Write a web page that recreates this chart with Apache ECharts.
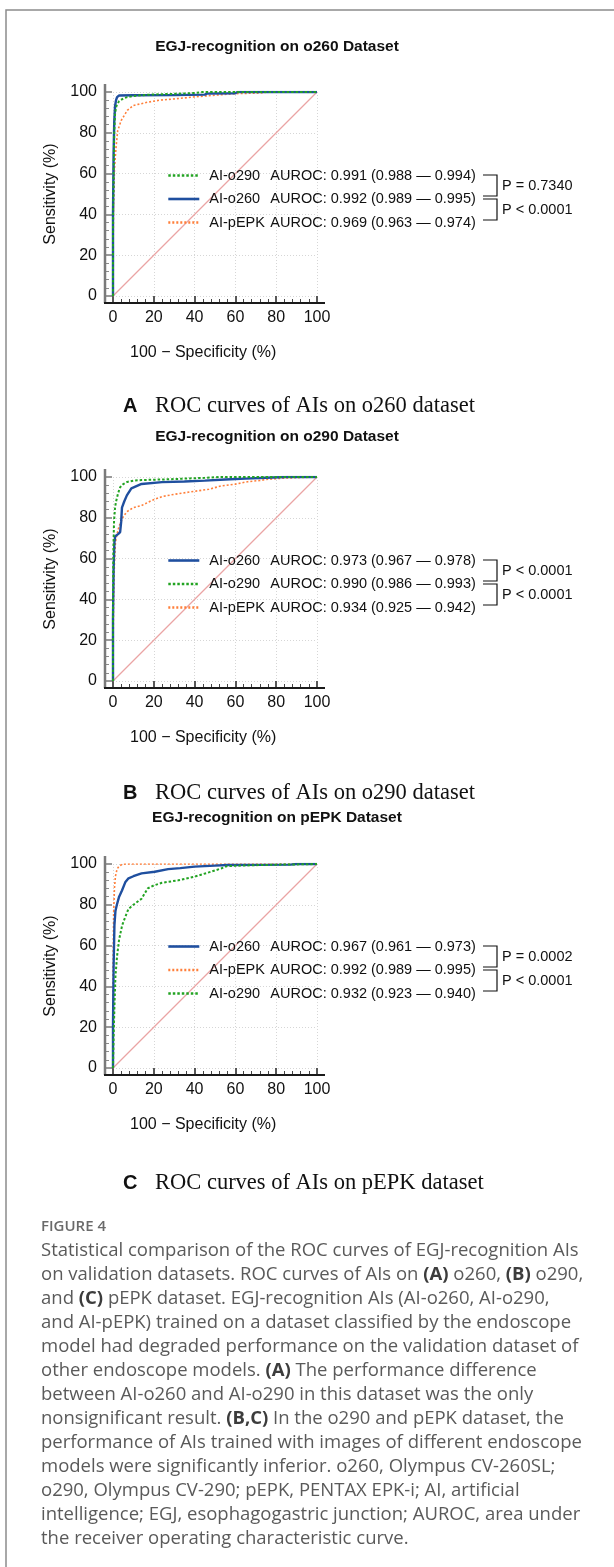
<!DOCTYPE html>
<html><head><meta charset="utf-8">
<script src="https://cdn.jsdelivr.net/npm/echarts@6/dist/echarts.min.js"></script>
<style>html,body{margin:0;padding:0;background:#fff}#c{width:614px;height:1567px}</style>
</head><body><div id="c"></div>
<script>
// ---------------- DATA ----------------
// Panel A: o260 dataset
const A_o260_fpr = [0,0,0.3,0.6,1,1.5,2,3,10,30,45,46,60,61,100];
const A_o260_tpr = [0,40,70,85,93,96,97.5,98.3,98.4,98.5,98.7,99.2,99.4,100,100];
const A_o290_fpr = [0,0,0.3,0.6,1,1.5,2,3,5,7,12,20,30,40,44,100];
const A_o290_tpr = [0,35,60,80,89,92.5,94,95.5,96.8,97.5,98.3,98.8,99.1,99.5,100,100];
const A_pEPK_fpr = [0,0,0.3,0.7,1.5,2.3,4,7,10,17,23,31,39,47,60,72,76,100];
const A_pEPK_tpr = [0,20,45,62,73,81,86,91,93.4,95,96,96.7,97.5,98.2,99.2,99.5,100,100];
// Panel B: o290 dataset
const B_o260_fpr = [0,0,0.3,0.7,1.1,2.5,3.5,4,4.4,5.5,6.8,9,14,24,35,45,55,65,75,85,100];
const B_o260_tpr = [0,30,55,68,71,72,73,78,85,88,91,94.4,96.6,97.5,97.8,98.2,98.8,99.2,99.6,100,100];
const B_o290_fpr = [0,0,0.2,0.5,1,1.5,2.5,3.5,5,7,10,14,25,35,45,52,100];
const B_o290_tpr = [0,40,65,78,85,88,92,95,96.5,97.6,98.2,98.5,98.8,99.2,99.6,100,100];
const B_pEPK_fpr = [0,0,0.3,0.7,1.2,2,3,3.5,5,6.8,10,14,19,24,30,40,47,53,60,66,72,76,85,100];
const B_pEPK_tpr = [0,15,40,58,68,72,76,77,80.5,83,85,86,88.5,90.4,91.5,93,94,95.6,96.5,97.7,98.3,98.9,99.5,100];
// Panel C: pEPK dataset
const C_o260_fpr = [0,0,0.3,0.7,1.2,1.9,3,4.4,6,7.6,10,14,20.5,27,33,40,50,56,87,90,100];
const C_o260_tpr = [0,20,50,70,77,80,84,87,91,93,94,95.4,96.2,97.5,98,98.7,99.2,99.5,99.7,100,100];
const C_pEPK_fpr = [0,0,0.3,0.7,1.2,2,3,4.5,6,100];
const C_pEPK_tpr = [0,40,75,88,94,97.5,99,99.8,100,100];
const C_o290_fpr = [0,0.3,0.7,1.2,2,3,4.5,6,7.6,10,14,17,20,24,32,40,48,53,56,65,82,90,100];
const C_o290_tpr = [0,15,30,45,55,63,70,74,78,80,83,88,89.5,90.8,92,93.8,96.2,97.8,99,99.3,99.7,99.8,100];
// chance (reference) diagonal
const diag_fpr = [0,100];
const diag_tpr = [0,100];

const panelTitles = ['EGJ-recognition on o260 Dataset','EGJ-recognition on o290 Dataset','EGJ-recognition on pEPK Dataset'];
const panelLetters = ['A','B','C'];
const panelCaptions = ['ROC curves of AIs on o260 dataset','ROC curves of AIs on o290 dataset','ROC curves of AIs on pEPK dataset'];
const legendNamesA = ['AI-o290','AI-o260','AI-pEPK'];
const legendNamesB = ['AI-o260','AI-o290','AI-pEPK'];
const legendNamesC = ['AI-o260','AI-pEPK','AI-o290'];
const aurocA = ['0.991 (0.988 \u2014 0.994)','0.992 (0.989 \u2014 0.995)','0.969 (0.963 \u2014 0.974)'];
const aurocB = ['0.973 (0.967 \u2014 0.978)','0.990 (0.986 \u2014 0.993)','0.934 (0.925 \u2014 0.942)'];
const aurocC = ['0.967 (0.961 \u2014 0.973)','0.992 (0.989 \u2014 0.995)','0.932 (0.923 \u2014 0.940)'];
const pValsA = ['P = 0.7340','P < 0.0001'];
const pValsB = ['P < 0.0001','P < 0.0001'];
const pValsC = ['P = 0.0002','P < 0.0001'];
const xAxisTitle = '100 \u2212 Specificity (%)';
const yAxisTitle = 'Sensitivity (%)';
const figLabel = 'FIGURE 4';
const captionLines = [
 'Statistical comparison of the ROC curves of EGJ-recognition AIs',
 'on validation datasets. ROC curves of AIs on {b|(A)} o260, {b|(B)} o290,',
 'and {b|(C)} pEPK dataset. EGJ-recognition AIs (AI-o260, AI-o290,',
 'and AI-pEPK) trained on a dataset classified by the endoscope',
 'model had degraded performance on the validation dataset of',
 'other endoscope models. {b|(A)} The performance difference',
 'between AI-o260 and AI-o290 in this dataset was the only',
 'nonsignificant result. {b|(B,C)} In the o290 and pEPK dataset, the',
 'performance of AIs trained with images of different endoscope',
 'models were significantly inferior. o260, Olympus CV-260SL;',
 'o290, Olympus CV-290; pEPK, PENTAX EPK-i; AI, artificial',
 'intelligence; EGJ, esophagogastric junction; AUROC, area under',
 'the receiver operating characteristic curve.'
];

// ---------------- LAYOUT / STYLE ----------------
const SANS = "'Liberation Sans', Arial, sans-serif";
const SERIF = "'Liberation Serif', 'Times New Roman', serif";
const CAP = "'Open Sans', Lato, sans-serif";
const COL = {'AI-o260':'#1f4f9f','AI-o290':'#22a322','AI-pEPK':'#ff7f3a'};
const STY = {
  'AI-o260': {width:2.4, type:'solid'},
  'AI-o290': {width:2, type:[2.5,2]},
  'AI-pEPK': {width:1.6, type:[2,2]}
};
const panels = [
  {gridTop:92, titleY:47, capY:406, legTop:175, names:legendNamesA, auroc:aurocA, p:pValsA,
   data:{'AI-o290':[A_o290_fpr,A_o290_tpr],'AI-o260':[A_o260_fpr,A_o260_tpr],'AI-pEPK':[A_pEPK_fpr,A_pEPK_tpr]}},
  {gridTop:477, titleY:437, capY:793, legTop:560, names:legendNamesB, auroc:aurocB, p:pValsB,
   data:{'AI-o290':[B_o290_fpr,B_o290_tpr],'AI-o260':[B_o260_fpr,B_o260_tpr],'AI-pEPK':[B_pEPK_fpr,B_pEPK_tpr]}},
  {gridTop:864, titleY:818, capY:1183, legTop:946, names:legendNamesC, auroc:aurocC, p:pValsC,
   data:{'AI-o290':[C_o290_fpr,C_o290_tpr],'AI-o260':[C_o260_fpr,C_o260_tpr],'AI-pEPK':[C_pEPK_fpr,C_pEPK_tpr]}}
];
const GL = 113, GW = 204, GH = 204;
const DIAG = '#eaa4a4';
const zip = (a,b) => a.map((v,i)=>[v,b[i]]);

const chart = echarts.init(document.getElementById('c'), null, {renderer:'canvas'});
const grid=[], xAxis=[], yAxis=[], series=[], legend=[], title=[];
panels.forEach((p,i)=>{
  grid.push({left:GL, top:p.gridTop, width:GW, height:GH, containLabel:false});
  xAxis.push({type:'value', gridIndex:i, min:0, max:100, interval:20, offset:7,
    axisLine:{show:false, onZero:false},
    axisTick:{show:true, inside:true, length:7, lineStyle:{color:'#222', width:1.5}},
    minorTick:{show:true, splitNumber:5, length:4, lineStyle:{color:'#444', width:1}},
    axisLabel:{fontFamily:SANS, fontSize:16, color:'#111', margin:7},
    splitLine:{show:true, lineStyle:{color:'#d6d6d6', type:[1,2], width:1}}});
  yAxis.push({type:'value', gridIndex:i, min:0, max:100, interval:20, offset:8,
    name:yAxisTitle, nameLocation:'middle', nameGap:46,
    nameTextStyle:{fontFamily:SANS, fontSize:16, color:'#111'},
    axisLine:{show:false, onZero:false},
    axisTick:{show:true, inside:true, length:7, lineStyle:{color:'#7a7a7a', width:1.5}},
    minorTick:{show:true, splitNumber:5, length:4, lineStyle:{color:'#8a8a8a', width:1}},
    axisLabel:{fontFamily:SANS, fontSize:16, color:'#111', margin:8},
    splitLine:{show:true, lineStyle:{color:'#d6d6d6', type:[1,2], width:1}}});
  ['AI-pEPK','AI-o260','AI-o290'].forEach((nm,k)=>{
    const s = {type:'line', name:nm, xAxisIndex:i, yAxisIndex:i, data:zip(p.data[nm][0], p.data[nm][1]),
      symbol:'none', z:3+k, color:COL[nm], lineStyle:{color:COL[nm], width:STY[nm].width, type:STY[nm].type}};
    if (k === 0) {
      s.markLine = {silent:true, z:2, symbol:['none','none'], label:{show:false},
        lineStyle:{color:DIAG, width:1.3, type:'solid'},
        emphasis:{disabled:true},
        data:[[{coord:[diag_fpr[0], diag_tpr[0]]},{coord:[diag_fpr[1], diag_tpr[1]]}]]};
    }
    series.push(s);
  });
  const amap = {}; p.names.forEach((n,k)=>amap[n]=p.auroc[k]);
  legend.push({orient:'vertical', left:167, top:p.legTop-7, padding:0, itemGap:8.5,
    itemWidth:31, itemHeight:14, data:p.names, selectedMode:false,
    itemStyle:{color:'rgba(0,0,0,0)', borderWidth:0, opacity:0},
    lineStyle:{width:2.6},
    formatter: n => '{n|'+n+'}{a|AUROC: '+amap[n]+'}',
    textStyle:{fontFamily:SANS, fontSize:14.5, color:'#111', lineHeight:14,
      rich:{n:{fontFamily:SANS, fontSize:14.5, color:'#111', width:61, padding:[0,0,0,5]},
            a:{fontFamily:SANS, fontSize:14.5, color:'#111'}}}});
  title.push({text:panelTitles[i], left:277, top:p.titleY, textAlign:'center', textVerticalAlign:'middle', padding:0,
    textStyle:{fontFamily:SANS, fontSize:15.5, fontWeight:'bold', color:'#111'}});
});

chart.setOption({animation:false, backgroundColor:'#fff', grid, xAxis, yAxis, series, legend, title});

// ---------------- ANNOTATIONS ----------------
const g = [];
g.push({type:'rect', shape:{x:6, y:10, width:700, height:1700}, style:{fill:'none', stroke:'#8c8c8c', lineWidth:1.5}, silent:true});
panels.forEach((p,i)=>{
  const o = chart.convertToPixel({gridIndex:i}, [0,0]);
  const e = chart.convertToPixel({gridIndex:i}, [100,100]);
  const ax = o[0]-8, ay = o[1]+7;
  g.push({type:'line', shape:{x1:ax, y1:ay, x2:ax, y2:e[1]-8}, style:{stroke:'#7a7a7a', lineWidth:2.5}, z:10});
  g.push({type:'line', shape:{x1:ax-1, y1:ay, x2:e[0]+8, y2:ay}, style:{stroke:'#1a1a1a', lineWidth:2}, z:10});
  g.push({type:'text', x:130, y:o[1]+57, style:{text:xAxisTitle, font:'16px '+SANS, fill:'#111', textAlign:'left', textVerticalAlign:'middle'}});
  // brackets
  const r1 = p.legTop, r2 = p.legTop+22.5, r3 = p.legTop+45;
  const bx1 = 483, bx2 = 497;
  g.push({type:'polyline', shape:{points:[[bx1,r1],[bx2,r1],[bx2,r2-1.5],[bx1,r2-1.5]]}, style:{stroke:'#111', lineWidth:1.2, fill:null}});
  g.push({type:'polyline', shape:{points:[[bx1,r2+1.5],[bx2,r2+1.5],[bx2,r3],[bx1,r3]]}, style:{stroke:'#111', lineWidth:1.2, fill:null}});
  g.push({type:'text', x:502, y:(r1+r2)/2, style:{text:p.p[0], font:'14.5px '+SANS, fill:'#111', textAlign:'left', textVerticalAlign:'middle'}});
  g.push({type:'text', x:502, y:(r2+r3)/2+1, style:{text:p.p[1], font:'14.5px '+SANS, fill:'#111', textAlign:'left', textVerticalAlign:'middle'}});
  // panel caption
  g.push({type:'text', x:123, y:p.capY, style:{text:panelLetters[i], font:'bold 20px '+SANS, fill:'#111', textAlign:'left', textVerticalAlign:'middle'}});
  g.push({type:'text', x:155, y:p.capY, style:{text:panelCaptions[i], font:'22.5px '+SERIF, fill:'#111', textAlign:'left', textVerticalAlign:'middle'}});
});
g.push({type:'text', x:41, y:1227, style:{text:figLabel, font:'600 15px '+CAP, fill:'#6a6a6a', textAlign:'left', textVerticalAlign:'middle'}});
g.push({type:'text', x:41, y:1239, style:{text:captionLines.join('\n'), font:'18.5px '+CAP, fill:'#5a5a5a', lineHeight:24,
  textAlign:'left', textVerticalAlign:'top',
  rich:{b:{fontFamily:CAP, fontSize:18.5, fontWeight:'bold', fill:'#3c3c3c', lineHeight:24}}}});
chart.setOption({graphic:g});
</script></body></html>
